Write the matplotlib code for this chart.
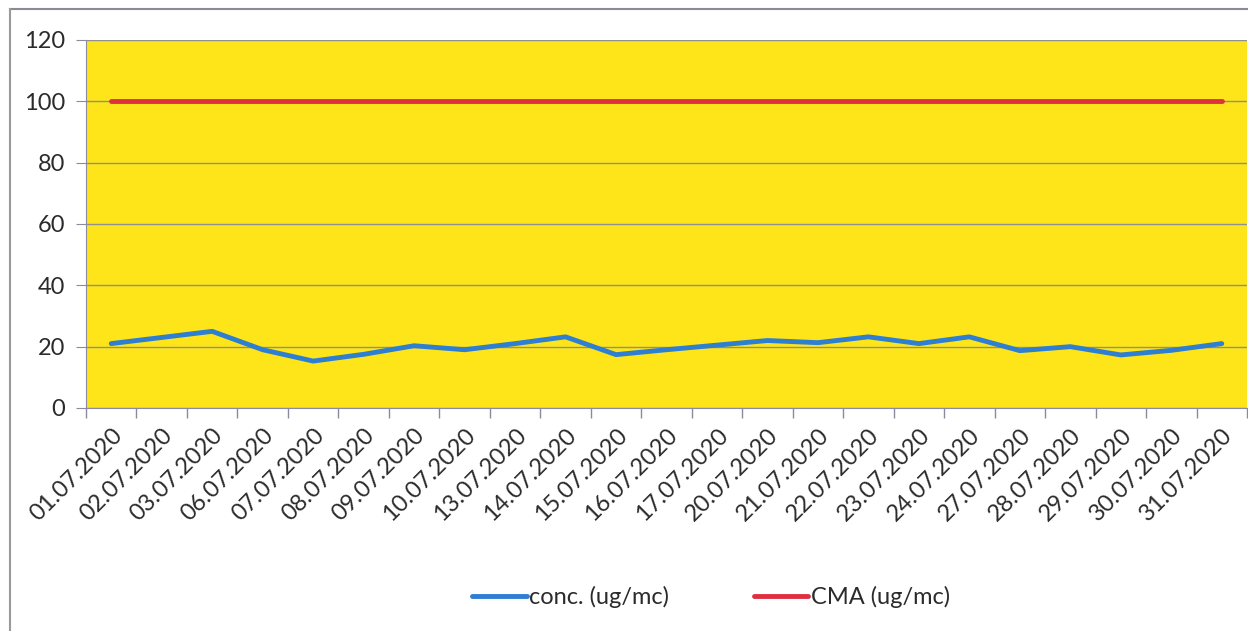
import matplotlib
matplotlib.use("Agg")
import matplotlib.pyplot as plt
import numpy as np
from matplotlib.lines import Line2D

plt.rcParams['font.family'] = ['Lato', 'DejaVu Sans']

dates = ['01.07.2020', '02.07.2020', '03.07.2020', '06.07.2020', '07.07.2020',
         '08.07.2020', '09.07.2020', '10.07.2020', '13.07.2020', '14.07.2020',
         '15.07.2020', '16.07.2020', '17.07.2020', '20.07.2020', '21.07.2020',
         '22.07.2020', '23.07.2020', '24.07.2020', '27.07.2020', '28.07.2020',
         '29.07.2020', '30.07.2020', '31.07.2020']
conc = [21, 23, 25, 19, 15.3, 17.5, 20.3, 19, 21, 23.2, 17.4, 19, 20.5, 22,
        21.3, 23.2, 21, 23.2, 18.7, 20, 17.3, 18.8, 21]
cma = [100] * len(dates)
yticks = [0, 20, 40, 60, 80, 100, 120]

W, H = 1248, 631
fs = 17
fig = plt.figure(figsize=(W / 100, H / 100), dpi=100)
ax = fig.add_axes([86 / W, 1 - 408 / H, (1247 - 86) / W, 368 / H])

x = np.arange(len(dates))
ax.set_facecolor('#FDE51A')
ax.plot(x, conc, color='#2E7ED2', lw=3.5, label='conc. (ug/mc)', solid_capstyle='round')
ax.plot(x, cma, color='#DF3040', lw=3.5, label='CMA (ug/mc)', solid_capstyle='round')

ax.set_xlim(-0.5, len(dates) - 0.5)
ax.set_ylim(0, 120)
ax.set_yticks(yticks)
ax.set_xticks(x)
ax.set_xticks(np.arange(len(dates) + 1) - 0.5, minor=True)
ax.set_xticklabels(dates, rotation=45, ha='right', rotation_mode='anchor',
                   fontsize=fs, color='#2b2b2b')
ax.tick_params(axis='x', which='major', length=0, pad=12)
ax.tick_params(axis='x', which='minor', length=7, color='#8a8aa0', width=1)
ax.tick_params(axis='y', length=7, color='#8a8aa0', labelsize=fs,
               labelcolor='#2b2b2b', pad=8)
ax.grid(axis='y', color='#8f8f8f', lw=1)
ax.set_axisbelow(True)
for s in ['top', 'right']:
    ax.spines[s].set_visible(False)
ax.spines['left'].set_color('#8a8aa0')
ax.spines['bottom'].set_color('#8a8aa0')

# outer chart frame
fig.add_artist(Line2D([10 / W, 1], [1 - 9 / H, 1 - 9 / H], color='#8a8a9a', lw=1.5))
fig.add_artist(Line2D([10 / W, 10 / W], [0, 1 - 9 / H], color='#9a9a9a', lw=1.5))

fig.legend(loc='center', bbox_to_anchor=(711 / W, 1 - 597 / H), ncol=2,
           frameon=False, fontsize=fs, handlelength=2.3, handletextpad=0.1,
           columnspacing=3.6, labelcolor='#2b2b2b')

fig.savefig('out.png', dpi=100, facecolor='white')
